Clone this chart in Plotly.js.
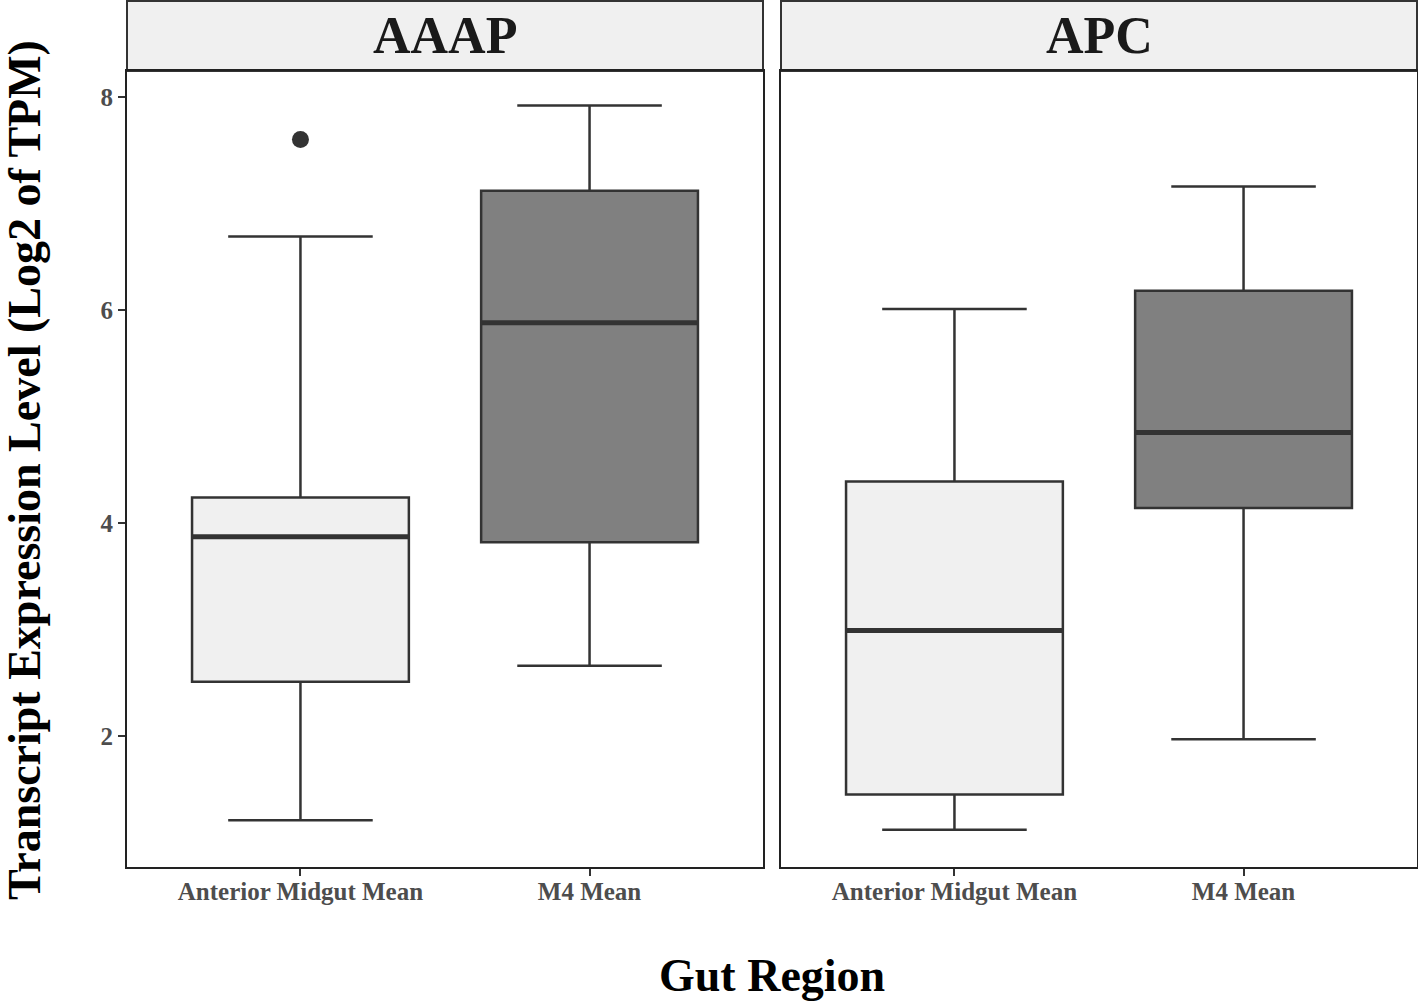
<!DOCTYPE html>
<html>
<head>
<meta charset="utf-8">
<script src="https://cdn.plot.ly/plotly-3.0.1.min.js"></script>
<style>html,body{margin:0;padding:0;background:#fff;}#chart{width:1418px;height:1002px;}</style>
</head>
<body>
<div id="chart"></div>
<script>
// ---- data ----
const panels = ["AAAP", "APC"];
const categories = ["Anterior Midgut Mean", "M4 Mean"];
// per panel: [Anterior Midgut Mean, M4 Mean]
const lowerWhisker = { AAAP: [1.21, 2.66], APC: [1.12, 1.97] };
const q1Values     = { AAAP: [2.51, 3.82], APC: [1.45, 4.14] };
const medianValues = { AAAP: [3.87, 5.88], APC: [2.99, 4.85] };
const q3Values     = { AAAP: [4.24, 7.12], APC: [4.39, 6.18] };
const upperWhisker = { AAAP: [6.69, 7.92], APC: [6.01, 7.16] };
const outlierCat   = { AAAP: ["Anterior Midgut Mean"], APC: [] };
const outlierVal   = { AAAP: [7.60], APC: [] };
const yTicks = [2, 4, 6, 8];

// ---- styling ----
const fills = ["#f0f0f0", "#808080"];
const lineCol = "#333333";
const W = 1418, H = 1002;
const plotTop = 71, plotBottom = 867;
const xDomains = [[127 / W, 763 / W], [781 / W, 1417 / W]];
const yDomain = [1 - plotBottom / H, 1 - plotTop / H];
const serif = "Liberation Serif, Times New Roman, serif";

const traces = [];
panels.forEach((p, pi) => {
  const xa = pi === 0 ? "x" : "x2";
  const ya = pi === 0 ? "y" : "y2";
  categories.forEach((c, ci) => {
    traces.push({
      type: "box", xaxis: xa, yaxis: ya,
      x: [c],
      q1: [q1Values[p][ci]], median: [medianValues[p][ci]], q3: [q3Values[p][ci]],
      lowerfence: [lowerWhisker[p][ci]], upperfence: [upperWhisker[p][ci]],
      width: 0.75, whiskerwidth: 0.5 / 0.75,
      fillcolor: fills[ci],
      line: { color: lineCol, width: 2.5 },
      boxpoints: false, hoverinfo: "skip", showlegend: false
    });
  });
  // thicker median lines
  traces.push({
    type: "box", xaxis: xa, yaxis: ya,
    x: categories,
    q1: medianValues[p], median: medianValues[p], q3: medianValues[p],
    lowerfence: medianValues[p], upperfence: medianValues[p],
    width: 0.75, whiskerwidth: 0,
    fillcolor: "rgba(0,0,0,0)",
    line: { color: lineCol, width: 5 },
    boxpoints: false, hoverinfo: "skip", showlegend: false
  });
  if (outlierVal[p].length) {
    traces.push({
      type: "scatter", mode: "markers", xaxis: xa, yaxis: ya,
      x: outlierCat[p], y: outlierVal[p],
      marker: { color: lineCol, size: 17 },
      hoverinfo: "skip", showlegend: false
    });
  }
});

const xaxisBase = {
  type: "category", categoryorder: "array", categoryarray: categories,
  range: [-0.6, 1.6], showgrid: false, zeroline: false,
  showline: true, mirror: true, linecolor: "#222", linewidth: 2,
  ticks: "outside", ticklen: 7, tickwidth: 2, tickcolor: lineCol,
  ticklabelstandoff: -6,
  tickfont: { family: serif, size: 25, color: "#4d4d4d", weight: "bold" },
  fixedrange: true
};
const yaxisBase = {
  range: [0.77, 8.244], domain: yDomain, tickvals: yTicks,
  showgrid: false, zeroline: false,
  showline: true, mirror: true, linecolor: "#222", linewidth: 2,
  ticks: "outside", ticklen: 7, tickwidth: 2, tickcolor: lineCol,
  tickfont: { family: serif, size: 25, color: "#4d4d4d", weight: "bold" },
  fixedrange: true
};

const shapes = [], annotations = [];
panels.forEach((p, pi) => {
  shapes.push({
    type: "rect", xref: "paper", yref: "paper",
    x0: xDomains[pi][0], x1: xDomains[pi][1], y0: yDomain[1], y1: 1 - 1 / H,
    fillcolor: "#f0f0f0", line: { color: lineCol, width: 2 }, layer: "below"
  });
  annotations.push({
    xref: "paper", yref: "paper",
    x: (xDomains[pi][0] + xDomains[pi][1]) / 2, y: (yDomain[1] + 1) / 2,
    xanchor: "center", yanchor: "middle", showarrow: false,
    text: p, font: { family: serif, size: 52, color: "#1a1a1a", weight: "bold" }
  });
});
annotations.push({
  xref: "paper", yref: "paper", x: 772 / W, y: 1 - 975 / H,
  xanchor: "center", yanchor: "middle", showarrow: false,
  text: "Gut Region", font: { family: serif, size: 46, color: "#000", weight: "bold" }
});
annotations.push({
  xref: "paper", yref: "paper", x: 25 / W, y: 1 - 470 / H,
  xanchor: "center", yanchor: "middle", showarrow: false, textangle: -90,
  text: "Transcript Expression Level (Log2 of TPM)",
  font: { family: serif, size: 46, color: "#000", weight: "bold" }
});

const layout = {
  width: W, height: H,
  margin: { l: 0, r: 0, t: 0, b: 0, pad: 0 },
  paper_bgcolor: "#fff", plot_bgcolor: "#fff",
  boxmode: "overlay", showlegend: false,
  xaxis: Object.assign({}, xaxisBase, { domain: xDomains[0], anchor: "y" }),
  xaxis2: Object.assign({}, xaxisBase, { domain: xDomains[1], anchor: "y2" }),
  yaxis: Object.assign({}, yaxisBase, { anchor: "x" }),
  yaxis2: Object.assign({}, yaxisBase, { anchor: "x2", showticklabels: false, ticks: "" }),
  shapes: shapes, annotations: annotations
};

Plotly.newPlot("chart", traces, layout, { displayModeBar: false, staticPlot: true });
</script>
</body>
</html>
